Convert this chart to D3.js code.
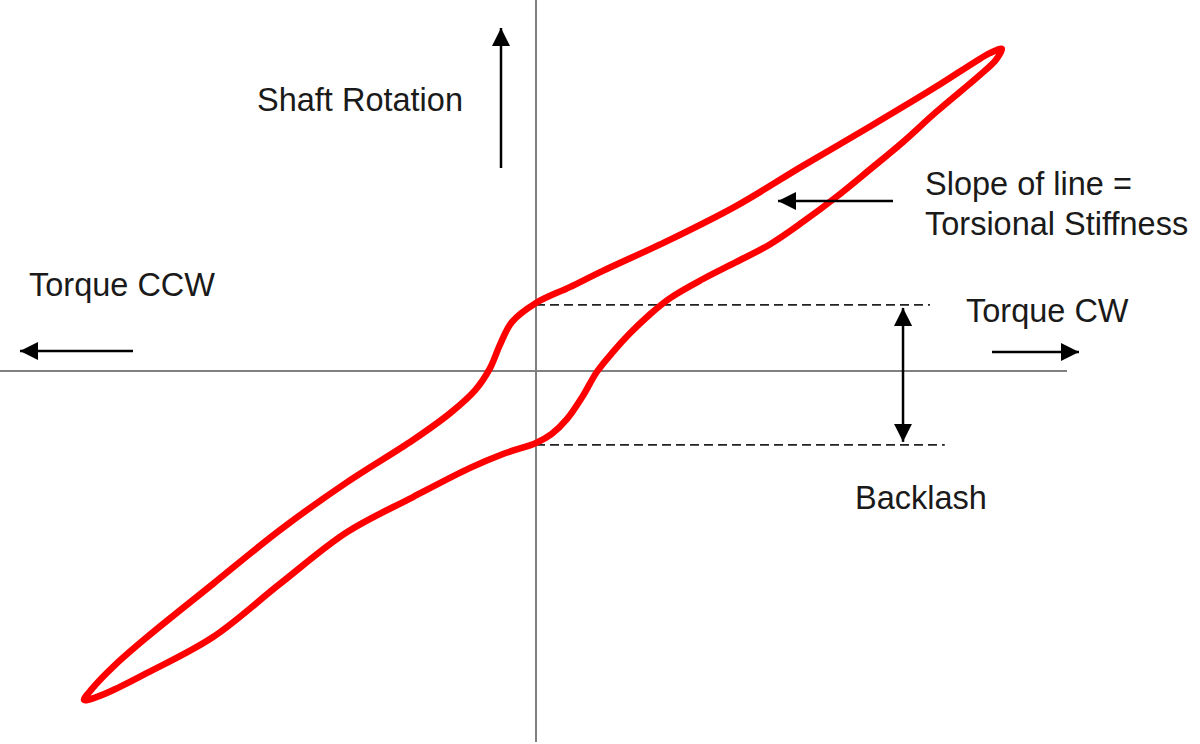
<!DOCTYPE html>
<html>
<head>
<meta charset="utf-8">
<script src="https://cdn.jsdelivr.net/npm/d3@7"></script>
<style>
  body { margin: 0; background: #fff; }
  text { font-family: "Liberation Sans", Arial, sans-serif; fill: #1a1a1a; }
</style>
</head>
<body>
<div id="chart"></div>
<script>
// torque (x) vs shaft rotation (y), both in % of peak
var loadingTorque = [-97.4, -95.7, -90.7, -83.8, -69.6, -55.2, -40.7, -26.5, -18.5, -13.1, -9.9, -7.8, -5.2, 0, 7.3, 14.4, 28.7, 43.1, 57.5, 71.8, 86.2, 94.6, 97.8, 100.4];
var loadingRotation = [-101.5, -98.1, -90.7, -82.1, -65.7, -49.1, -34.3, -21.3, -13.0, -5.9, 0.9, 8.0, 15.1, 21.0, 25.9, 30.9, 40.4, 50.9, 63.3, 75.3, 87.7, 95.4, 98.1, 99.4];

var unloadingTorque = [99.1, 95.7, 86.2, 79.1, 71.8, 64.7, 57.5, 50.2, 43.1, 36.0, 28.9, 24.4, 20.3, 16.6, 13.1, 10.1, 6.7, 3.4, 0, -7.1, -14.2, -26.5, -40.7, -55.2, -69.6, -83.8, -90.1, -94.6];
var unloadingRotation = [96.0, 91.4, 79.9, 70.7, 62.0, 53.7, 46.0, 38.9, 33.6, 28.4, 22.5, 17.3, 11.7, 5.9, -0.3, -7.7, -14.8, -19.4, -22.2, -25.6, -29.9, -38.9, -49.7, -65.7, -82.1, -93.2, -97.8, -100.6];

// rotation where each branch crosses zero torque
var backlashLevels = [20.4, -22.8];
var backlashDashEnd = [84.9, 88.1];
var backlashArrowTorque = 79.1;

(function () {
    var width = 1200,
        height = 744;

    var svg = d3.select("#chart")
        .append("svg")
        .attr("width", width)
        .attr("height", height);

    var x = d3.scaleLinear().domain([-100, 100]).range([72, 1000]);
    var y = d3.scaleLinear().domain([-100, 100]).range([695, 47]);

    var defs = svg.append("defs");
    defs.append("marker")
        .attr("id", "head")
        .attr("viewBox", "0 0 10 10")
        .attr("refX", 10)
        .attr("refY", 5)
        .attr("markerUnits", "userSpaceOnUse")
        .attr("markerWidth", 18)
        .attr("markerHeight", 18)
        .attr("orient", "auto-start-reverse")
        .append("path")
        .attr("d", "M0,0 L10,5 L0,10 Z")
        .attr("fill", "#000");

    // axes
    svg.append("line")
        .attr("x1", 0).attr("x2", 1067)
        .attr("y1", y(0)).attr("y2", y(0))
        .attr("stroke", "#808080").attr("stroke-width", 2);
    svg.append("line")
        .attr("x1", x(0)).attr("x2", x(0))
        .attr("y1", 0).attr("y2", 742)
        .attr("stroke", "#808080").attr("stroke-width", 2);

    // backlash dashed lines
    svg.selectAll(".dash")
        .data(backlashLevels)
        .enter().append("line")
        .attr("class", "dash")
        .attr("x1", x(0))
        .attr("x2", function (d, i) { return x(backlashDashEnd[i]); })
        .attr("y1", function (d) { return y(d); })
        .attr("y2", function (d) { return y(d); })
        .attr("stroke", "#222")
        .attr("stroke-width", 1.8)
        .attr("stroke-dasharray", "9,5");

    // hysteresis loop
    var pts = [];
    loadingTorque.forEach(function (t, i) { pts.push([t, loadingRotation[i]]); });
    unloadingTorque.forEach(function (t, i) { pts.push([t, unloadingRotation[i]]); });

    var line = d3.line()
        .x(function (d) { return x(d[0]); })
        .y(function (d) { return y(d[1]); })
        .curve(d3.curveCatmullRomClosed.alpha(0.5));

    svg.append("path")
        .datum(pts)
        .attr("d", line)
        .attr("fill", "none")
        .attr("stroke", "#ff0000")
        .attr("stroke-width", 6.5)
        .attr("stroke-linejoin", "round");

    // arrows
    function arrow(x1, y1, x2, y2, both) {
        var a = svg.append("line")
            .attr("x1", x1).attr("y1", y1)
            .attr("x2", x2).attr("y2", y2)
            .attr("stroke", "#000")
            .attr("stroke-width", 2.5)
            .attr("marker-end", "url(#head)");
        if (both) a.attr("marker-start", "url(#head)");
    }

    arrow(501, 168, 501, 28);
    arrow(133, 351, 20, 351);
    arrow(992, 352, 1079, 352);
    arrow(893, 201, 778, 201);
    arrow(x(backlashArrowTorque), y(backlashLevels[0]) + 3, x(backlashArrowTorque), y(backlashLevels[1]) - 3, true);

    // labels
    var labels = [
        { t: "Shaft Rotation", x: 257, y: 111 },
        { t: "Torque CCW", x: 29, y: 296 },
        { t: "Torque CW", x: 966, y: 322 },
        { t: "Slope of line =", x: 925, y: 195 },
        { t: "Torsional Stiffness", x: 925, y: 235 },
        { t: "Backlash", x: 855, y: 509 }
    ];

    svg.selectAll(".label")
        .data(labels)
        .enter().append("text")
        .attr("class", "label")
        .attr("x", function (d) { return d.x; })
        .attr("y", function (d) { return d.y; })
        .attr("font-size", 32.5)
        .text(function (d) { return d.t; });
})();
</script>
</body>
</html>
